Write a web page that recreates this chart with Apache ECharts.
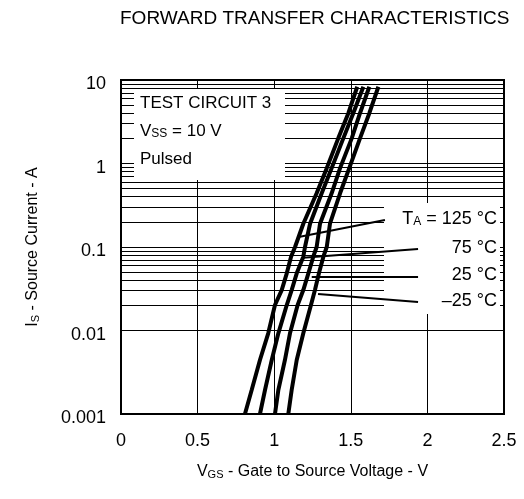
<!DOCTYPE html>
<html><head><meta charset="utf-8">
<script src="https://cdn.jsdelivr.net/npm/echarts@6/dist/echarts.min.js"></script>
<style>html,body{margin:0;padding:0;background:#fff}#c{width:524px;height:499px}</style>
</head><body><div id="c"></div>
<script>
// Source current (A) sample levels
var current = [0.001, 0.00194, 0.00443, 0.00925, 0.0202, 0.0305, 0.0484, 0.0765, 0.1, 0.19, 0.44, 0.88, 2.0, 4.0, 8.3];
// Gate-source voltage (V) for each temperature at those current levels
var v125 = [0.809, 0.853, 0.907, 0.961, 1.005, 1.049, 1.082, 1.110, 1.136, 1.190, 1.277, 1.343, 1.418, 1.484, 1.542];
var v75  = [0.907, 0.940, 0.984, 1.027, 1.082, 1.114, 1.147, 1.190, 1.201, 1.234, 1.310, 1.375, 1.451, 1.516, 1.582];
var v25  = [1.005, 1.027, 1.070, 1.103, 1.153, 1.190, 1.223, 1.255, 1.277, 1.299, 1.375, 1.430, 1.506, 1.560, 1.621];
var vm25 = [1.092, 1.114, 1.147, 1.190, 1.240, 1.266, 1.292, 1.321, 1.343, 1.364, 1.430, 1.490, 1.560, 1.621, 1.680];
var xTicks = [0, 0.5, 1, 1.5, 2, 2.5];
var yTickLabels = ['0.001', '0.01', '0.1', '1', '10'];
var decades = [0.001, 0.01, 0.1, 1];
var minorMult = [2, 3, 4, 5, 6, 7, 8, 9];
// Arrow annotations: [fromV, fromI, toV, toI]
var arrows = [
  [1.723, 0.211, 1.168, 0.133],
  [1.939, 0.0946, 1.188, 0.0744],
  [1.939, 0.0441, 1.245, 0.0441],
  [1.939, 0.0219, 1.286, 0.0274]
];

var FONT = '"Liberation Sans", Arial, sans-serif';
var chart = echarts.init(document.getElementById('c'), null, {renderer: 'canvas'});

var minorLines = [];
decades.forEach(function (d) {
  minorMult.forEach(function (m) { minorLines.push({yAxis: +(d * m).toPrecision(3)}); });
});

function pair(vs) { return vs.map(function (v, i) { return [v, current[i]]; }); }

var curveStyle = {color: '#000', width: 4};
var series = [
  {
    type: 'line', data: [], z: 1, silent: true, symbol: 'none',
    markLine: {
      z: 1, silent: true, symbol: 'none', animation: false,
      label: {show: false},
      lineStyle: {color: '#000', width: 1, type: 'solid'},
      emphasis: {disabled: true},
      data: minorLines
    }
  }
];
[v125, v75, v25, vm25].forEach(function (vs) {
  series.push({type: 'line', data: pair(vs), symbol: 'none', z: 5, lineStyle: curveStyle, silent: true});
});
series.push({
  type: 'line', data: [], z: 6, silent: true, symbol: 'none',
  markLine: {
    z: 6, silent: true, animation: false,
    symbol: ['none', 'arrow'], symbolSize: [0, 9],
    label: {show: false},
    lineStyle: {color: '#000', width: 2, type: 'solid'},
    emphasis: {disabled: true},
    data: arrows.map(function (a) { return [{coord: [a[0], a[1]]}, {coord: [a[2], a[3]]}]; })
  }
});

chart.setOption({
  animation: false,
  title: {
    text: 'FORWARD TRANSFER CHARACTERISTICS',
    left: 115, top: 4,
    textStyle: {fontFamily: FONT, fontSize: 19, fontWeight: 'normal', color: '#000'}
  },
  grid: {left: 121, right: 20, top: 80, bottom: 85, show: true, borderColor: '#000', borderWidth: 2, backgroundColor: '#fff'},
  xAxis: {
    type: 'value', min: 0, max: 2.5, interval: 0.5,
    axisLine: {show: true, lineStyle: {color: '#000', width: 2}},
    axisTick: {show: false},
    splitLine: {show: true, lineStyle: {color: '#000', width: 1}},
    axisLabel: {fontFamily: FONT, fontSize: 18, color: '#000', margin: 18,
      formatter: function (v) { var i = xTicks.indexOf(+v.toFixed(2)); return i >= 0 ? String(xTicks[i]) : ''; }},
    name: '{a|V}{s|GS}{a| - Gate to Source Voltage - V}',
    nameLocation: 'middle', nameGap: 50,
    nameTextStyle: {rich: {
      a: {fontFamily: FONT, fontSize: 16, color: '#000'},
      s: {fontFamily: FONT, fontSize: 11, color: '#000', padding: [5, 0, 0, 0]}
    }}
  },
  yAxis: {
    type: 'log', logBase: 10, min: 0.001, max: 10,
    axisLine: {show: true, lineStyle: {color: '#000', width: 2}},
    axisTick: {show: false},
    splitLine: {show: true, lineStyle: {color: '#000', width: 1}},
    axisLabel: {color: '#000', margin: 15,
      rich: {p: {fontFamily: FONT, fontSize: 18, color: '#000', padding: [9, 0, 0, 0]}},
      formatter: function (v) { var k = Math.round(Math.log10(v)) + 3; return yTickLabels[k] ? '{p|' + yTickLabels[k] + '}' : ''; }},
    name: '{a|I}{s|S}{a| - Source Current - A}',
    nameLocation: 'middle', nameGap: 80,
    nameTextStyle: {rich: {
      a: {fontFamily: FONT, fontSize: 16, color: '#000'},
      s: {fontFamily: FONT, fontSize: 11, color: '#000', padding: [5, 0, 0, 0]}
    }}
  },
  series: series,
  graphic: [
    {type: 'rect', z: 3, silent: true, shape: {x: 134, y: 89, width: 151, height: 91}, style: {fill: '#fff'}},
    {type: 'rect', z: 3, silent: true, shape: {x: 384, y: 203, width: 116, height: 111}, style: {fill: '#fff'}},
    {type: 'text', z: 7, left: 140, top: 95, style: {text: 'TEST CIRCUIT 3', font: '17px ' + FONT, fill: '#000'}},
    {type: 'text', z: 7, left: 140, top: 123, style: {
      text: '{a|V}{s|SS}{a| = 10 V}',
      rich: {a: {fontFamily: FONT, fontSize: 17, fill: '#000'}, s: {fontFamily: FONT, fontSize: 12, fill: '#000', padding: [5, 0, 0, 0]}}
    }},
    {type: 'text', z: 7, left: 140, top: 151, style: {text: 'Pulsed', font: '17px ' + FONT, fill: '#000'}},
    {type: 'text', z: 7, right: 27, top: 210, style: {
      text: '{a|T}{s|A}{a| = 125 °C}', align: 'right',
      rich: {a: {fontFamily: FONT, fontSize: 18, fill: '#000'}, s: {fontFamily: FONT, fontSize: 12, fill: '#000', padding: [5, 0, 0, 0]}}
    }},
    {type: 'text', z: 7, right: 27, top: 239, style: {text: '75 °C', font: '18px ' + FONT, fill: '#000'}},
    {type: 'text', z: 7, right: 27, top: 266, style: {text: '25 °C', font: '18px ' + FONT, fill: '#000'}},
    {type: 'text', z: 7, right: 27, top: 292, style: {text: '\u201325 °C', font: '18px ' + FONT, fill: '#000'}}
  ]
});
</script></body></html>
